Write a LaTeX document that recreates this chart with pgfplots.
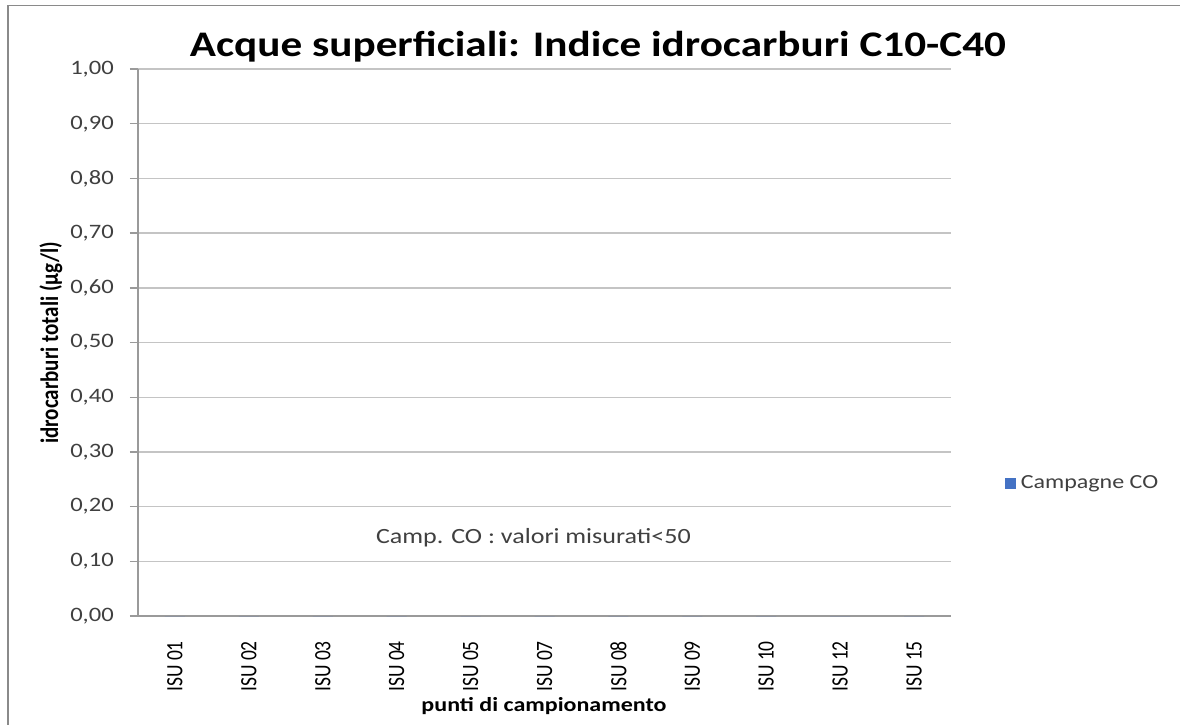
\documentclass[border=0pt]{standalone}
\usepackage{graphicx}
\usepackage{pgfplots}
\pgfplotsset{compat=1.18}
\usepackage{fontspec}
\setmainfont{Carlito}
\definecolor{gridc}{HTML}{C4C4C4}
\definecolor{axc}{HTML}{9A9A9A}
\definecolor{framec}{HTML}{8A8A8A}
\definecolor{txt}{HTML}{404040}
\definecolor{barblue}{HTML}{4472C4}
\begin{document}
\begin{tikzpicture}[x=1pt,y=1pt]
\useasboundingbox (0,0) rectangle (1180,724);
\fill[white] (0,0) rectangle (1180,724);
\draw[framec, line width=1.4pt] (8,-2) -- (8,718.5) -- (1182,718.5);
\begin{axis}[
  at={(138pt,108pt)}, anchor=south west,
  scale only axis, width=813pt, height=547pt,
  xmin=-0.5, xmax=10.5, ymin=0, ymax=1,
  ytick={0,0.1,0.2,0.3,0.4,0.5,0.6,0.7,0.8,0.9,1.0},
  xtick={0,1,2,3,4,5,6,7,8,9,10},
  xticklabels={\scalebox{1}[1.2]{ISU 01},\scalebox{1}[1.2]{ISU 02},\scalebox{1}[1.2]{ISU 03},\scalebox{1}[1.2]{ISU 04},\scalebox{1}[1.2]{ISU 05},\scalebox{1}[1.2]{ISU 07},\scalebox{1}[1.2]{ISU 08},\scalebox{1}[1.2]{ISU 09},\scalebox{1}[1.2]{ISU 10},\scalebox{1}[1.2]{ISU 12},\scalebox{1}[1.2]{ISU 15}},
  xticklabel style={rotate=90, anchor=east, inner sep=0pt, font=\fontsize{19.5}{22}\selectfont, text=black},
  xticklabel shift=17pt,
  /pgf/number format/assume math mode=true,
  yticklabel={\scalebox{1.2}[1]{\pgfmathprintnumber[fixed,fixed zerofill,precision=2,use comma]{\tick}}},
  yticklabel style={font=\fontsize{20.5}{24}\selectfont, text=txt, inner sep=0pt, anchor=east, xshift=-16pt},
  axis lines*=left,
  axis line style={axc, line width=1.4pt},
  ymajorgrids,
  grid style={gridc, line width=1.4pt},
  ytick pos=left, xtick pos=bottom,
  tick align=outside,
  major tick length=8pt,
  ytick style={axc, line width=1.4pt},
  xtick style={draw=none},
  legend style={at={(axis description cs:1.066,0.243)}, anchor=west, draw=none, fill=none, inner sep=0pt, font=\fontsize{20}{24}\selectfont, text=txt},
  legend cell align=left,
  clip=false,
]
\addplot[ybar, draw=none, fill=barblue, bar width=20pt,
  legend image code/.code={\fill[barblue] (0pt,-5.5pt) rectangle (11pt,5.5pt);}]
  coordinates {(0,0) (1,0) (2,0) (3,0) (4,0) (5,0) (6,0) (7,0) (8,0) (9,0) (10,0)};
\addlegendentry{\hspace{3pt}\scalebox{1.2}[1]{Campagne CO}}
\node[font=\fontsize{21.7}{26}\selectfont, text=txt] at (axis cs:4.85,0.143) {\scalebox{1.2}[1]{Camp. CO : valori misurati<50}};
\end{axis}
\node[anchor=base, font=\bfseries\fontsize{36}{40}\selectfont, text=black] at (598,667) {\scalebox{1.2}[1]{Acque superficiali: Indice idrocarburi C10-C40}};
\node[anchor=base, font=\bfseries\fontsize{20}{24}\selectfont, text=black] at (544,13) {\scalebox{1.2}[1]{punti di campionamento}};
\node[anchor=base, rotate=90, font=\bfseries\fontsize{21}{24}\selectfont, text=black] at (58,381) {\scalebox{1}[1.2]{idrocarburi totali (µg/l)}};
\end{tikzpicture}
\end{document}
